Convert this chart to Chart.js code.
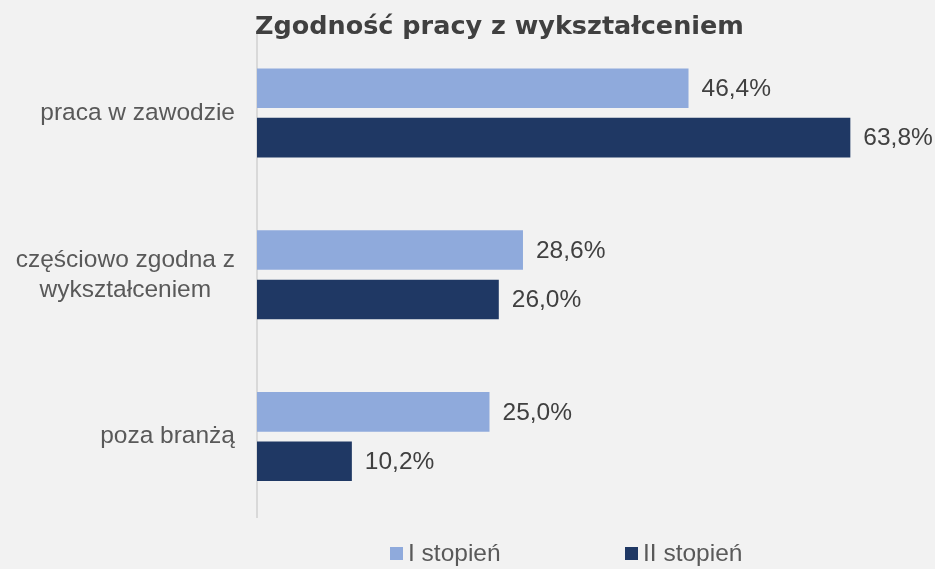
<!DOCTYPE html>
<html>
<head>
<meta charset="utf-8">
<script src="https://cdn.jsdelivr.net/npm/chart.js@4/dist/chart.umd.min.js"></script>
<style>
html,body{margin:0;padding:0;background:#f2f2f2;}
#wrap{width:935px;height:569px;position:relative;}
</style>
</head>
<body>
<div id="wrap"><canvas id="c" width="935" height="569"></canvas></div>
<script>
const title = 'Zgodność pracy z wykształceniem';
const categories = [['praca w zawodzie'], ['częściowo zgodna z', 'wykształceniem'], ['poza branżą']];
const seriesNames = ['I stopień', 'II stopień'];
const stopien1 = [46.4, 28.6, 25.0];
const stopien2 = [63.8, 26.0, 10.2];
const colors = ['#8faadc', '#1f3864'];
const xMax = 70;

const TEXT_GRAY = '#595959';
const LABEL_FONT = '24.5px "Liberation Sans", Arial, sans-serif';

const drawPlugin = {
  id: 'custom',
  beforeDraw(chart) {
    const ctx = chart.ctx;
    ctx.save();
    ctx.fillStyle = '#f2f2f2';
    ctx.fillRect(0, 0, chart.width, chart.height);
    ctx.restore();
  },
  afterDraw(chart) {
    const ctx = chart.ctx;
    const area = chart.chartArea;
    const yScale = chart.scales.y;
    ctx.save();
    // title
    ctx.fillStyle = '#404040';
    ctx.font = 'bold 25.5px "DejaVu Sans", Verdana, sans-serif';
    ctx.textAlign = 'left';
    ctx.textBaseline = 'alphabetic';
    ctx.fillText(title, area.left - 2, 33.5);
    // category labels
    ctx.font = LABEL_FONT;
    ctx.fillStyle = TEXT_GRAY;
    ctx.textBaseline = 'middle';
    ctx.textAlign = 'center';
    const lineH = 30;
    categories.forEach((lines, i) => {
      const yc = yScale.getPixelForValue(i);
      const maxW = Math.max(...lines.map(l => ctx.measureText(l).width));
      const right = area.left - 22;
      const cx = right - maxW / 2;
      const y0 = yc - (lines.length - 1) * lineH / 2;
      lines.forEach((l, j) => ctx.fillText(l, cx, y0 + j * lineH));
    });
    // data labels
    ctx.fillStyle = '#404040';
    ctx.textAlign = 'left';
    chart.data.datasets.forEach((ds, di) => {
      const meta = chart.getDatasetMeta(di);
      meta.data.forEach((bar, i) => {
        const v = ds.data[i];
        const txt = v.toFixed(1).replace('.', ',') + '%';
        ctx.fillText(txt, bar.x + 13, bar.y + 1);
      });
    });
    // legend
    const legendItems = [{x: 390}, {x: 625}];
    legendItems.forEach((it, i) => {
      ctx.fillStyle = colors[i];
      ctx.fillRect(it.x, 547, 13, 13);
      ctx.fillStyle = TEXT_GRAY;
      ctx.fillText(seriesNames[i], it.x + 18, 554);
    });
    ctx.restore();
  }
};

new Chart(document.getElementById('c'), {
  type: 'bar',
  data: {
    labels: categories.map(c => c.join(' ')),
    datasets: [
      {label: seriesNames[0], data: stopien1, backgroundColor: colors[0], categoryPercentage: 0.611, barPercentage: 0.8},
      {label: seriesNames[1], data: stopien2, backgroundColor: colors[1], categoryPercentage: 0.611, barPercentage: 0.8}
    ]
  },
  options: {
    indexAxis: 'y',
    responsive: false,
    animation: false,
    layout: {padding: {top: 32, bottom: 51.5, right: 27, left: 0}},
    plugins: {legend: {display: false}, title: {display: false}, tooltip: {enabled: false}},
    scales: {
      x: {display: false, min: 0, max: xMax},
      y: {
        grid: {display: false},
        ticks: {display: false},
        border: {display: true, color: '#d9d9d9', width: 2},
        afterFit(s) { s.width = 257; }
      }
    }
  },
  plugins: [drawPlugin]
});
</script>
</body>
</html>
